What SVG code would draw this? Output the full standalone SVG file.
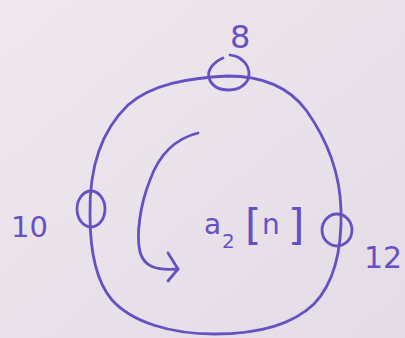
<svg xmlns="http://www.w3.org/2000/svg" width="405" height="338" viewBox="0 0 405 338">
<style>
.ink{fill:none;stroke:#6650c2;stroke-width:2.8;stroke-linecap:round;stroke-linejoin:round}
.lbl{font-family:"DejaVu Sans",sans-serif;fill:#6650c2}
</style>
<defs>
<linearGradient id="bg" x1="0" y1="0" x2="1" y2="1">
<stop offset="0" stop-color="#efe8ee"/>
<stop offset="1" stop-color="#e4dce6"/>
</linearGradient>
</defs>
<rect width="405" height="338" fill="url(#bg)"/>
<g id="connectors">
<path class="ink" d="M90,215 C89,170 100,132 128,105 C152,84 188,78 228,76 C262,76 288,86 306,110 C326,138 340,172 341,210 C342,250 334,283 314,304 C292,325 258,334 215,334 C170,334 132,322 112,300 C95,280 90,250 90,215 Z"/>
<path class="ink" d="M198,133 C178,138 160,152 150,180 C140,205 136,235 140,252 C144,266 155,271 178,269"/>
<path class="ink" d="M168,253 L178,269 L168,281"/>
</g>
<g id="node-8">
<path class="ink" d="M223,58 C212,63 207,71 209,78 C212,87 220,90 229,90 C240,90 249,83 249,74 C249,65 242,58 235,56 L230,55"/>
<text class="lbl" x="230" y="48" font-size="32">8</text>
</g>
<g id="node-10">
<ellipse class="ink" cx="91" cy="209" rx="14" ry="18"/>
<text class="lbl" x="11" y="237" font-size="29">10</text>
</g>
<g id="node-12">
<ellipse class="ink" cx="337" cy="230" rx="15" ry="16"/>
<text class="lbl" x="364" y="268" font-size="30">12</text>
</g>
<g id="label">
<text class="lbl" font-size="28"><tspan x="204" y="234">a</tspan><tspan x="222" y="248" font-size="20">2</tspan><tspan x="245" y="240" font-size="42">[</tspan><tspan x="262" y="234">n</tspan><tspan x="288" y="240" font-size="42">]</tspan></text>
</g>
</svg>
